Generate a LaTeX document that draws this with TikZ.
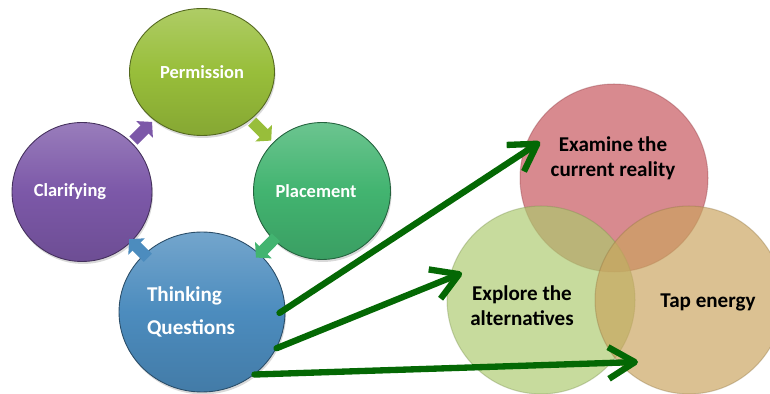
\documentclass[tikz,border=0pt]{standalone}
\usepackage{fontspec}
\setmainfont{Carlito}
\usetikzlibrary{arrows.meta,shapes.geometric,shadows}

% cycle colours
\definecolor{permcol}{RGB}{152,190,58}
\definecolor{claricol}{RGB}{124,88,168}
\definecolor{placecol}{RGB}{66,180,112}
\definecolor{thinkcol}{RGB}{76,140,190}
% venn colours
\definecolor{examcol}{RGB}{198,82,90}
\definecolor{explcol}{RGB}{172,202,110}
\definecolor{tapcol}{RGB}{202,164,94}
\definecolor{goalgreen}{RGB}{4,104,4}

\tikzset{
  ball/.style={ellipse, draw=#1!55!black, line width=0.5pt,
    top color=#1!78!white, bottom color=#1!88!black, middle color=#1,
    drop shadow={opacity=0.3, shadow xshift=0.6pt, shadow yshift=-1.4pt}},
  venn/.style={circle, minimum size=3.76cm, fill=#1, fill opacity=0.68,
    draw=#1!70!black, draw opacity=0.35, line width=0.6pt},
  cyc/.style={draw=#1, line width=6.5pt, -{Triangle[length=6pt,width=13pt]},
    shorten <=1.5pt, shorten >=1.5pt},
  goal/.style={draw=goalgreen, line width=3.6pt, line cap=round,
    -{Straight Barb[length=15pt,width=18pt,line join=round]}},
  lbl/.style={text=white, font=\bfseries\fontsize{10.5}{12.6}\selectfont},
  vlbl/.style={text=black, align=center, font=\bfseries\fontsize{12}{14.2}\selectfont}
}

\begin{document}
\begin{tikzpicture}[x=0.02cm,y=-0.02cm]
  \useasboundingbox (0,0) rectangle (770,394);

  % four step cycle
  \node[ball=permcol, minimum width=2.9cm, minimum height=2.54cm] (pm) at (202,72) {};
  \node[ball=claricol, minimum width=2.8cm, minimum height=2.78cm] (cl) at (82,192) {};
  \node[ball=placecol, minimum width=2.74cm, minimum height=2.74cm] (pl) at (322,191) {};
  \node[ball=thinkcol, minimum width=3.32cm, minimum height=3.2cm] (tq) at (202,312) {};

  \node[lbl] (pm-t) at (202,72) {Permission};
  \node[lbl] (cl-t) at (70,192) {Clarifying};
  \node[lbl] (pl-t) at (316,191) {Placement};
  \node[lbl, align=left, font=\bfseries\fontsize{12}{14.4}\selectfont] (tq-t) at (191,312) {Thinking\\[4pt]Questions};

  % small arrows between the steps
  \draw[cyc=claricol] (cl) -- (pm);
  \draw[cyc=permcol] (pm) -- (pl);
  \draw[cyc=placecol, shorten <=-2pt, shorten >=-3pt] (pl) -- (tq);
  \draw[cyc=thinkcol, shorten <=-3pt, shorten >=-2pt] (tq) -- (cl);

  % three overlapping circles
  \node[venn=examcol] (ecr) at (614,178) {};
  \node[venn=explcol] (eta) at (541,300) {};
  \node[venn=tapcol] (tap) at (689,300) {};

  \node[vlbl] (ecr-t) at (613,158) {Examine the\\current reality};
  \node[vlbl] (eta-t) at (522,306) {Explore the\\alternatives};
  \node[vlbl] (tap-t) at (708,302) {Tap energy};

  % arrow tips sit inside the circles
  \coordinate (tip1) at (540,142);
  \coordinate (tip2) at (462,273);
  \coordinate (tip3) at (638,362);

  \draw[goal, shorten <=-4pt] (tq.2) -- (tip1);
  \draw[goal] (tq.-26) -- (tip2);
  \draw[goal] (tq.-50) -- (tip3);
\end{tikzpicture}
\end{document}
